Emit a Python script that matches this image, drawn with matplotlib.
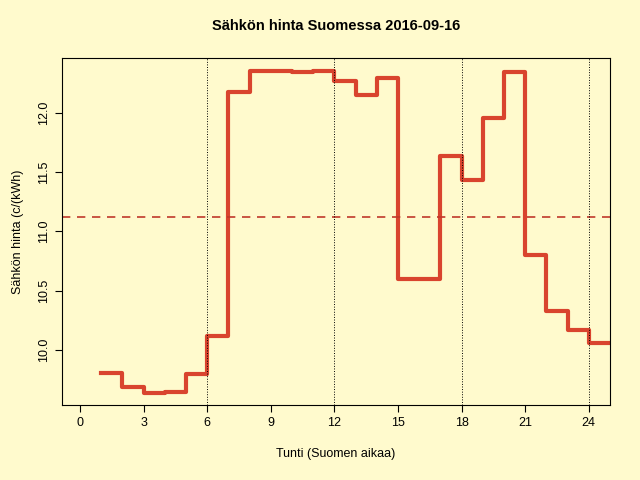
import matplotlib
matplotlib.use('Agg')
import matplotlib.pyplot as plt
import numpy as np

plt.rcParams['font.family'] = ['Liberation Sans', 'DejaVu Sans']

hours = list(range(1, 26))
prices = [9.806, 9.688, 9.637, 9.645, 9.797, 10.118, 12.177, 12.354, 12.354,
          12.346, 12.354, 12.262, 12.152, 12.295, 10.599, 10.599, 11.637,
          11.435, 11.958, 12.346, 10.80, 10.329, 10.169, 10.059, 10.059]
mean_price = 11.122
vlines = [6, 12, 18, 24]
xticks = [0, 3, 6, 9, 12, 15, 18, 21, 24]
yticks = [10.0, 10.5, 11.0, 11.5, 12.0]

bg = '#fffacd'
fig = plt.figure(figsize=(6.4, 4.8), dpi=100, facecolor=bg)
ax = fig.add_axes([62/640, 75/480, 548/640, 347/480], facecolor=bg)

ax.step(hours, prices, where='post', color='#d9442e', lw=3)
ax.axhline(mean_price, color='#c0392b', lw=1.2, ls=(0, (5, 4)))
for v in vlines:
    ax.axvline(v, color='black', lw=0.7, ls=':')

ax.set_xlim(-0.85, 25)
ax.set_ylim(9.536, 12.46)
ax.set_xticks(xticks)
ax.set_yticks(yticks)
ax.set_yticklabels([f'{t:.1f}' for t in yticks], rotation=90, va='center')
ax.tick_params(labelsize=9, length=5)
ax.set_xlabel('Tunti (Suomen aikaa)', fontsize=9, labelpad=14)
ax.set_ylabel('Sähkön hinta (c/(kWh)', fontsize=9, labelpad=10)
ax.set_title('Sähkön hinta Suomessa 2016-09-16', fontsize=10.5, fontweight='bold', pad=20)

fig.savefig('out.png', dpi=100, facecolor=bg)
